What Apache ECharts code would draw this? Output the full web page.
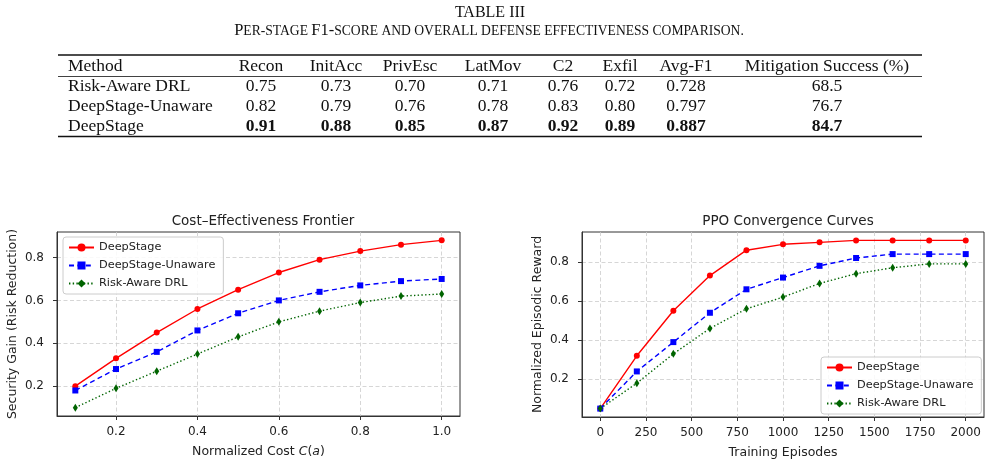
<!DOCTYPE html>
<html>
<head>
<meta charset="utf-8">
<script src="https://cdn.jsdelivr.net/npm/echarts@6/dist/echarts.min.js"></script>
<style>html,body{margin:0;padding:0;background:#fff}#main{width:993px;height:467px}</style>
</head>
<body>
<div id="main"></div>
<script>
// table
var tableCols = ['Method', 'Recon', 'InitAcc', 'PrivEsc', 'LatMov', 'C2', 'Exfil', 'Avg-F1', 'Mitigation Success (%)'];
var methods = ['Risk-Aware DRL', 'DeepStage-Unaware', 'DeepStage'];
var rowRisk = ['0.75', '0.73', '0.70', '0.71', '0.76', '0.72', '0.728', '68.5'];
var rowUnaware = ['0.82', '0.79', '0.76', '0.78', '0.83', '0.80', '0.797', '76.7'];
var rowDeep = ['0.91', '0.88', '0.85', '0.87', '0.92', '0.89', '0.887', '84.7'];

// cost-effectiveness frontier
var costX = [0.1, 0.2, 0.3, 0.4, 0.5, 0.6, 0.7, 0.8, 0.9, 1.0];
var costDeep = [0.20, 0.33, 0.45, 0.56, 0.65, 0.73, 0.79, 0.83, 0.86, 0.88];
var costUnaware = [0.18, 0.28, 0.36, 0.46, 0.54, 0.60, 0.64, 0.67, 0.69, 0.70];
var costRisk = [0.10, 0.19, 0.27, 0.35, 0.43, 0.50, 0.55, 0.59, 0.62, 0.63];
var costXTicks = [0.2, 0.4, 0.6, 0.8, 1.0];
var costYTicks = [0.2, 0.4, 0.6, 0.8];

// PPO convergence
var episodes = [0, 200, 400, 600, 800, 1000, 1200, 1400, 1600, 1800, 2000];
var rewDeep = [0.05, 0.32, 0.55, 0.73, 0.86, 0.89, 0.90, 0.91, 0.91, 0.91, 0.91];
var rewUnaware = [0.05, 0.24, 0.39, 0.54, 0.66, 0.72, 0.78, 0.82, 0.84, 0.84, 0.84];
var rewRisk = [0.05, 0.18, 0.33, 0.46, 0.56, 0.62, 0.69, 0.74, 0.77, 0.79, 0.79];
var epXTicks = [0, 250, 500, 750, 1000, 1250, 1500, 1750, 2000];
var rewYTicks = [0.2, 0.4, 0.6, 0.8];

var chart = echarts.init(document.getElementById('main'));
var plotFont = 'DejaVu Sans';
var serif = 'Liberation Serif';

var looks = {
    'DeepStage': {color: '#ff0000', type: 'solid', symbol: 'circle', size: 6},
    'DeepStage-Unaware': {color: '#0000ff', type: [5, 3.4], symbol: 'rect', size: 6},
    'Risk-Aware DRL': {color: '#006400', type: [1.4, 2.3], symbol: 'diamond', size: [5, 8]}
};

function zip(xs, ys) {
    var out = [];
    for (var i = 0; i < xs.length; i++) out.push([xs[i], ys[i]]);
    return out;
}

function line(name, xs, ys, gi) {
    var lk = looks[name];
    return {
        name: name,
        type: 'line',
        xAxisIndex: gi,
        yAxisIndex: gi,
        data: zip(xs, ys),
        symbol: lk.symbol,
        symbolSize: lk.size,
        showAllSymbol: true,
        animation: false,
        lineStyle: {color: lk.color, width: 1.4, type: lk.type},
        itemStyle: {color: lk.color},
        emphasis: {disabled: true}
    };
}

function xAxisOf(gi, min, max, ticks, name) {
    return {
        type: 'value', gridIndex: gi, min: min, max: max,
        name: name, nameLocation: 'middle', nameGap: 29,
        nameTextStyle: {fontFamily: plotFont, fontSize: 12.5, color: '#222',
            rich: {i: {fontFamily: plotFont, fontStyle: 'italic', fontSize: 12.5, color: '#222'}}},
        axisLine: {show: true, onZero: false, lineStyle: {color: '#333'}},
        axisTick: {show: true, length: 4, customValues: ticks, lineStyle: {color: '#333'}},
        axisLabel: {customValues: ticks, fontFamily: plotFont, fontSize: 12, color: '#222', margin: 10,
            formatter: function (v) { return ticks[0] === 0 ? String(v) : v.toFixed(1); }},
        splitLine: {show: true, lineStyle: {color: '#cccccc', width: 0.8, type: [4, 2.5]}}
    };
}

function yAxisOf(gi, min, max, ticks, name, gap) {
    return {
        type: 'value', gridIndex: gi, min: min, max: max,
        name: name, nameLocation: 'middle', nameGap: gap,
        nameTextStyle: {fontFamily: plotFont, fontSize: 12.5, color: '#222'},
        axisLine: {show: true, onZero: false, lineStyle: {color: '#333'}},
        axisTick: {show: true, length: 4, customValues: ticks, lineStyle: {color: '#333'}},
        axisLabel: {customValues: ticks, fontFamily: plotFont, fontSize: 12, color: '#222', margin: 13,
            formatter: function (v) { return v.toFixed(1); }},
        splitLine: {show: true, lineStyle: {color: '#cccccc', width: 0.8, type: [4, 2.5]}}
    };
}

function legendAt(left, top) {
    return {
        left: left, top: top, orient: 'vertical',
        data: methods.slice().reverse(),
        itemWidth: 25, itemHeight: 10, itemGap: 7,
        padding: [5, 8, 5, 5],
        borderColor: '#cccccc', borderWidth: 1, borderRadius: 3,
        backgroundColor: 'rgba(255,255,255,0.85)',
        textStyle: {fontFamily: plotFont, fontSize: 11.3, color: '#222'},
        selectedMode: false
    };
}

// table graphic built from the arrays
var colX = [68, 261, 336, 410, 493, 563, 620, 686, 827];
var rowY = [66, 86, 106, 126];
var tableRows = [rowRisk, rowUnaware, rowDeep];
var g = [];
g.push({type: 'text', x: 490, y: 13, style: {text: 'TABLE III', font: '16px "' + serif + '"', fill: '#111', align: 'center', verticalAlign: 'middle'}});
g.push({type: 'text', x: 489, y: 31, style: {
    text: '{a|P}{b|ER-STAGE} {a|F1-}{b|SCORE AND OVERALL DEFENSE EFFECTIVENESS COMPARISON.}',
    align: 'center', verticalAlign: 'middle', fill: '#111',
    rich: {
        a: {fontFamily: serif, fontSize: 16.5, fill: '#111'},
        b: {fontFamily: serif, fontSize: 13.6, fill: '#111'}
    }
}});
g.push({type: 'line', shape: {x1: 58, y1: 55, x2: 922, y2: 55}, style: {stroke: '#111', lineWidth: 1.5}});
g.push({type: 'line', shape: {x1: 58, y1: 76.5, x2: 922, y2: 76.5}, style: {stroke: '#111', lineWidth: 0.8}});
g.push({type: 'line', shape: {x1: 58, y1: 136.5, x2: 922, y2: 136.5}, style: {stroke: '#111', lineWidth: 1.5}});
tableCols.forEach(function (c, j) {
    g.push({type: 'text', x: colX[j], y: rowY[0], style: {text: c, font: '17.5px "' + serif + '"', fill: '#111',
        align: j === 0 ? 'left' : 'center', verticalAlign: 'middle'}});
});
methods.forEach(function (m, i) {
    var bold = i === 2 ? 'bold ' : '';
    g.push({type: 'text', x: colX[0], y: rowY[i + 1], style: {text: m, font: '17.5px "' + serif + '"', fill: '#111', align: 'left', verticalAlign: 'middle'}});
    tableRows[i].forEach(function (v, j) {
        g.push({type: 'text', x: colX[j + 1], y: rowY[i + 1], style: {text: v, font: bold + '17.5px "' + serif + '"', fill: '#111', align: 'center', verticalAlign: 'middle'}});
    });
});

var option = {
    backgroundColor: '#fff',
    animation: false,
    title: [
        {text: 'Cost\u2013Effectiveness Frontier', left: 258, top: 209, textAlign: 'center',
            textStyle: {fontFamily: plotFont, fontSize: 13.5, fontWeight: 'normal', color: '#222'}},
        {text: 'PPO Convergence Curves', left: 783, top: 209, textAlign: 'center',
            textStyle: {fontFamily: plotFont, fontSize: 13.5, fontWeight: 'normal', color: '#222'}}
    ],
    grid: [
        {left: 57, top: 232, width: 403, height: 184, show: true, borderColor: '#333', borderWidth: 1, backgroundColor: 'transparent'},
        {left: 582, top: 232, width: 402, height: 185, show: true, borderColor: '#333', borderWidth: 1, backgroundColor: 'transparent'}
    ],
    xAxis: [
        xAxisOf(0, 0.055, 1.045, costXTicks, 'Normalized Cost {i|C}({i|a})'),
        xAxisOf(1, -100, 2100, epXTicks, 'Training Episodes')
    ],
    yAxis: [
        yAxisOf(0, 0.061, 0.919, costYTicks, 'Security Gain (Risk Reduction)', 38),
        yAxisOf(1, 0.007, 0.953, rewYTicks, 'Normalized Episodic Reward', 38)
    ],
    legend: [legendAt(63, 237), legendAt(821, 357)],
    series: [
        line('DeepStage', costX, costDeep, 0),
        line('DeepStage-Unaware', costX, costUnaware, 0),
        line('Risk-Aware DRL', costX, costRisk, 0),
        line('DeepStage', episodes, rewDeep, 1),
        line('DeepStage-Unaware', episodes, rewUnaware, 1),
        line('Risk-Aware DRL', episodes, rewRisk, 1)
    ],
    graphic: g
};
chart.setOption(option);
</script>
</body>
</html>
